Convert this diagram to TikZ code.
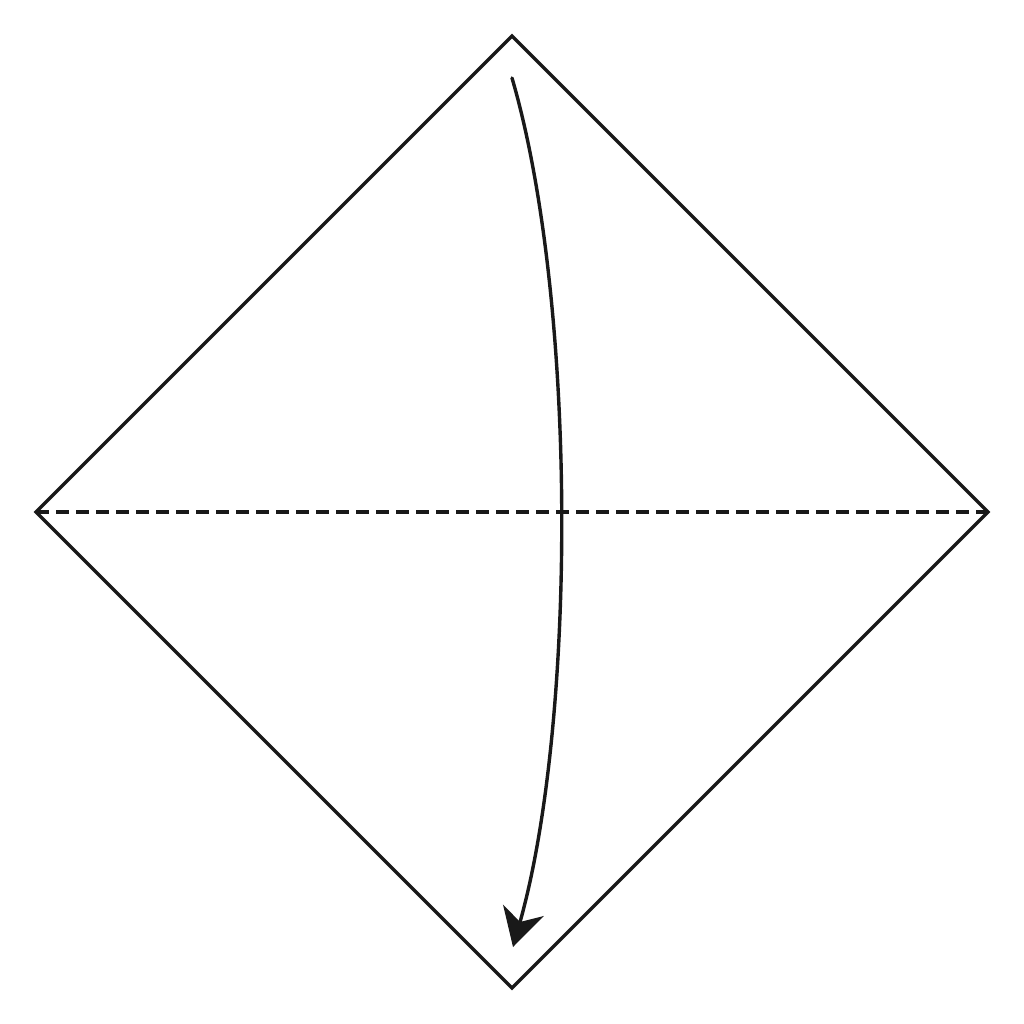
\documentclass[tikz,border=0pt]{standalone}
\usetikzlibrary{arrows.meta}
\begin{document}
\begin{tikzpicture}[x=1pt,y=-1pt,
  edge/.style={line width=3.4pt,color=black!90,line join=miter},
  fold/.style={line width=3.4pt,color=black!90,dash pattern=on 13pt off 7pt},
  move/.style={line width=3.4pt,color=black!90,line cap=round,-{Stealth[length=38pt,width=42pt,inset=12pt]}}]
\useasboundingbox (0,0) rectangle (1024,1024);
\coordinate (T) at (512,36);
\coordinate (R) at (988,512);
\coordinate (B) at (512,988);
\coordinate (L) at (36,512);
\coordinate (S) at (512,78);
\coordinate (E) at (513,947);
\draw[edge] (T) -- (R) -- (B) -- (L) -- cycle;
\draw[fold] (L) -- (R);
\draw[move] (S) .. controls (577,300) and (577,720) .. (E);
\end{tikzpicture}
\end{document}
